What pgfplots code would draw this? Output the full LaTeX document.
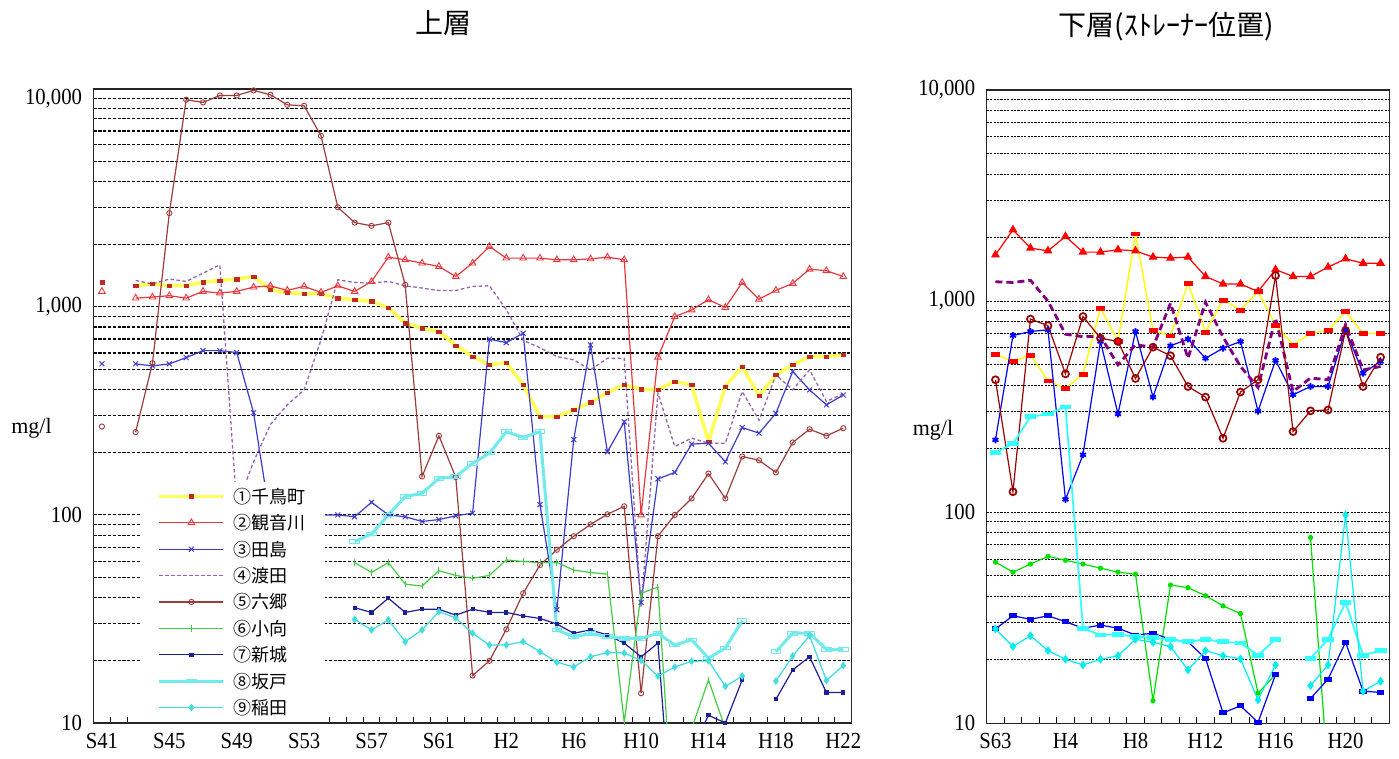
\documentclass[border=0pt]{standalone}
\usepackage{fontspec}
\usepackage{pgfplots}
\pgfplotsset{compat=1.18}
\newfontfamily\jp{Noto Sans CJK JP}
\newfontfamily\tickf[FakeStretch=0.9]{Liberation Serif}
\newfontfamily\serifn{Liberation Serif}
\definecolor{Ly}{HTML}{FFFF55}
\definecolor{Lym}{HTML}{C02828}
\definecolor{Lr}{HTML}{E8383D}
\definecolor{Lb}{HTML}{3C3CCC}
\definecolor{Lp}{HTML}{9464AE}
\definecolor{Lbr}{HTML}{9E3C3C}
\definecolor{Lg}{HTML}{44CC44}
\definecolor{Ln}{HTML}{1E1E96}
\definecolor{Lc}{HTML}{70EAEA}
\definecolor{Lc2}{HTML}{44DDDD}
\definecolor{Ry}{HTML}{FFFF00}
\definecolor{Rr}{HTML}{FF0000}
\definecolor{Rb}{HTML}{0000FF}
\definecolor{Rp}{HTML}{800080}
\definecolor{Rm}{HTML}{990000}
\definecolor{Rg}{HTML}{00E000}
\definecolor{Rn}{HTML}{0000EE}
\definecolor{Rc}{HTML}{33FFFF}
\definecolor{Rc2}{HTML}{00EEEE}
\pgfplotsset{
    scale only axis,
    unbounded coords=jump,
    axis line style={line width=1.3pt, draw=black!85},
    tick align=inside,
    major tick length=0pt, minor tick length=6pt,
    xtick pos=bottom, ytick pos=left,
    ytick style={draw=none},
    xtick style={line width=1pt, black},
    ticklabel style={font=\tickf\fontsize{23pt}{24pt}\selectfont},
    yticklabel style={xshift=-8pt},
    xticklabel style={yshift=-6.5pt},
    ylabel style={rotate=-90, anchor=center, font=\serifn\fontsize{22pt}{24pt}\selectfont},
}
\begin{document}
\begin{tikzpicture}
\useasboundingbox (0pt,0pt) rectangle (1399pt,758pt);
\node[font=\jp\fontsize{28pt}{30pt}\selectfont] at (443pt,734.7pt) {上層};
\node[font=\jp\fontsize{28pt}{30pt}\selectfont] at (1166pt,731.3pt) {下層(ｽﾄﾚｰﾅｰ位置)};
%%%%%%%%%%%%%%%% LEFT
\begin{axis}[
  ymode=log, ymin=10, ymax=11140,
  at={(93.5pt,35pt)}, anchor=south west,
  width=758.2pt, height=634pt,
  xmin=1965.5, xmax=2010.5,
  ymajorgrids, yminorgrids,
  major grid style={draw=black, line width=1.15pt, dash pattern=on 3.2pt off 1.6pt},
  minor grid style={draw=black, line width=1.15pt, dash pattern=on 3.2pt off 1.6pt},
  ytick={10,100,1000,10000},
  yticklabels={10,100,{1,000},{10,000}},
  minor ytick={20,30,40,50,60,70,80,90,200,300,400,500,600,700,800,900,2000,3000,4000,5000,6000,7000,8000,9000},
  xtick={1966,1970,...,2010},
  xticklabels={S41,S45,S49,S53,S57,S61,H2,H6,H10,H14,H18,H22},
  minor xtick={1966.5,1967.5,...,2009.5},
  ylabel={mg/l},
  ylabel style={at={(axis description cs:-0.0818,0.4653)}},
  legend cell align=left,
  legend image code/.code={\draw[mark repeat=2,mark phase=2,#1] plot coordinates {(0pt,0pt) (32pt,0pt) (64pt,0pt)};},
  legend style={at={(0.0613,0.002)}, anchor=south west, draw=none, fill=white,
    inner xsep=17.5pt, inner ysep=3pt, row sep=4.4pt, column sep=6pt,
    font=\jp\fontsize{18pt}{20pt}\selectfont,
    nodes={inner sep=2pt, text height=16pt, text depth=2pt}},
]
\addplot[color=Ly, line width=3.5pt, mark=square*, mark size=1.7pt, mark options={fill=Lym, draw=Lym, line width=0.4pt, xscale=1.3}] coordinates {(1966,1315)(1967,nan)(1968,1265)(1969,1288)(1970,1265)(1971,1265)(1972,1315)(1973,1339)(1974,1360)(1975,1399)(1976,1208)(1977,1168)(1978,1160)(1979,1155)(1980,1102)(1981,1082)(1982,1062)(1983,990)(1984,836)(1985,791)(1986,761)(1987,652)(1988,577)(1989,526)(1990,540)(1991,422)(1992,297)(1993,297)(1994,320)(1995,348)(1996,387)(1997,422)(1998,402)(1999,400)(2000,438)(2001,422)(2002,225)(2003,414)(2004,517)(2005,373)(2006,471)(2007,526)(2008,577)(2009,577)(2010,587)};
\addlegendentry{①千鳥町}
\addplot[color=Lr, line width=1.2pt, mark=triangle, mark size=3.8pt, mark options={fill=Lr!25, line width=0.9pt}] coordinates {(1966,1186)(1967,nan)(1968,1101)(1969,1114)(1970,1131)(1971,1101)(1972,1186)(1973,1165)(1974,1186)(1975,1244)(1976,1261)(1977,1200)(1978,1254)(1979,1173)(1980,1261)(1981,1186)(1982,1323)(1983,1733)(1984,1683)(1985,1622)(1986,1563)(1987,1399)(1988,1622)(1989,1950)(1990,1714)(1991,1714)(1992,1714)(1993,1683)(1994,1683)(1995,1700)(1996,1733)(1997,1683)(1998,100)(1999,573)(2000,897)(2001,966)(2002,1082)(2003,993)(2004,1309)(2005,1088)(2006,1200)(2007,1295)(2008,1517)(2009,1491)(2010,1399)};
\addlegendentry{②観音川}
\addplot[color=Lb, line width=1.2pt, mark=x, mark size=3.5pt, mark options={line width=1pt}] coordinates {(1966,532)(1967,nan)(1968,532)(1969,520)(1970,532)(1971,570)(1972,616)(1973,616)(1974,603)(1975,310)(1976,95)(1977,95)(1978,98)(1979,100)(1980,100)(1981,98)(1982,115)(1983,100)(1984,98)(1985,93)(1986,95)(1987,99)(1988,102)(1989,699)(1990,673)(1991,747)(1992,112)(1993,35)(1994,230)(1995,656)(1996,201)(1997,280)(1998,38)(1999,149)(2000,160)(2001,219)(2002,221)(2003,180)(2004,263)(2005,247)(2006,308)(2007,489)(2008,399)(2009,338)(2010,377)};
\addlegendentry{③田島}
\addplot[color=Lp, line width=1.3pt, dash pattern=on 3.5pt off 2.5pt] coordinates {(1968,1339)(1969,1288)(1970,1360)(1971,1324)(1972,1452)(1973,1592)(1974,110)(1975,180)(1976,272)(1977,338)(1978,399)(1979,693)(1980,1349)(1981,1310)(1982,1300)(1983,1324)(1984,1262)(1985,1231)(1986,1198)(1987,1198)(1988,1253)(1989,1262)(1990,970)(1991,690)(1992,636)(1993,577)(1994,556)(1995,498)(1996,566)(1997,566)(1998,36)(1999,385)(2000,213)(2001,234)(2002,221)(2003,221)(2004,392)(2005,285)(2006,471)(2007,399)(2008,498)(2009,351)(2010,382)};
\addlegendentry{④渡田}
\addplot[color=Lbr, line width=1.2pt, mark=o, mark size=2.6pt, mark options={line width=0.9pt}] coordinates {(1966,266)(1967,nan)(1968,250)(1969,536)(1970,2820)(1971,9890)(1972,9600)(1973,10370)(1974,10370)(1975,10970)(1976,10450)(1977,9350)(1978,9250)(1979,6640)(1980,3010)(1981,2540)(1982,2450)(1983,2540)(1984,1276)(1985,153)(1986,240)(1987,152)(1988,16.9)(1989,19.9)(1990,28.2)(1991,42)(1992,57.5)(1993,68)(1994,79)(1995,90)(1996,100.7)(1997,110)(1998,13.9)(1999,79)(2000,100)(2001,120)(2002,158)(2003,120)(2004,191)(2005,183)(2006,160)(2007,223)(2008,258)(2009,240)(2010,261)};
\addlegendentry{⑤六郷}
\addplot[color=Lg, line width=1.2pt, mark=|, mark size=3.2pt, mark options={line width=1pt}] coordinates {(1981,59)(1982,52.9)(1983,59)(1984,46.5)(1985,45.5)(1986,54)(1987,51.2)(1988,49.6)(1989,51.2)(1990,60.8)(1991,59.7)(1992,59)(1993,59)(1994,54.3)(1995,52.9)(1996,51.9)(1997,10.1)(1998,42)(1999,45)(2000,2.5)(2001,9.4)(2002,16.1)(2003,9.4)};
\addlegendentry{⑥小向}
\addplot[color=Ln, line width=1.2pt, mark=square*, mark size=1.5pt] coordinates {(1981,35.8)(1982,34)(1983,39.8)(1984,34)(1985,35.2)(1986,35.2)(1987,33)(1988,35.2)(1989,34)(1990,34)(1991,32.7)(1992,31.8)(1993,29.9)(1994,27)(1995,28)(1996,26.5)(1997,24.2)(1998,20.8)(1999,24.2)(2000,2)(2001,7.4)(2002,10.9)(2003,10)(2004,16.1)(2005,nan)(2006,13)(2007,18)(2008,20.8)(2009,14)(2010,14)};
\addlegendentry{⑦新城}
\addplot[color=Lc, line width=3pt, mark=square, mark size=3pt, mark options={line width=1pt, xscale=1.6, yscale=0.6}] coordinates {(1981,74.5)(1982,81)(1983,100)(1984,122.5)(1985,127)(1986,150)(1987,153)(1988,177)(1989,198)(1990,251)(1991,236)(1992,251)(1993,28)(1994,26)(1995,26.9)(1996,26)(1997,25.5)(1998,25.5)(1999,27)(2000,23.7)(2001,25.1)(2002,20.5)(2003,22.9)(2004,31)(2005,nan)(2006,22)(2007,27)(2008,27)(2009,22.6)(2010,22.6)};
\addlegendentry{⑧坂戸}
\addplot[color=Lc2, line width=1.3pt, mark=diamond*, mark size=2.8pt] coordinates {(1981,31.5)(1982,28)(1983,31.3)(1984,24.6)(1985,28)(1986,34.3)(1987,32)(1988,27)(1989,23.7)(1990,23.7)(1991,24.6)(1992,22)(1993,19.6)(1994,18.6)(1995,20.8)(1996,21.8)(1997,21.7)(1998,20)(1999,16.8)(2000,18.6)(2001,19.8)(2002,19.9)(2003,15)(2004,16.8)(2005,nan)(2006,15.9)(2007,21)(2008,26.3)(2009,16)(2010,18.9)};
\addlegendentry{⑨稲田}
\end{axis}
%%%%%%%%%%%%%%%% RIGHT
\begin{axis}[
  ymode=log, ymin=10, ymax=10000,
  at={(986.7pt,34.7pt)}, anchor=south west,
  width=402.6pt, height=633.3pt,
  xmin=1987.5, xmax=2010.5,
  ymajorgrids, yminorgrids,
  major grid style={draw=black, line width=0.95pt, dash pattern=on 2.2pt off 1.2pt},
  minor grid style={draw=black, line width=0.95pt, dash pattern=on 2.2pt off 1.2pt},
  ytick={10,100,1000,10000},
  yticklabels={10,100,{1,000},{10,000}},
  minor ytick={20,30,40,50,60,70,80,90,200,300,400,500,600,700,800,900,2000,3000,4000,5000,6000,7000,8000,9000},
  xtick={1988,1992,...,2008},
  xticklabels={S63,H4,H8,H12,H16,H20},
  minor xtick={1988.5,1989.5,...,2009.5},
  ylabel={mg/l},
  ylabel style={at={(axis description cs:-0.1334,0.463)}},
]
\addplot[color=Ry, line width=1.4pt, mark=square*, mark size=2.4pt, mark options={fill=Rr, draw=Rr, line width=0.4pt, xscale=1.7, yscale=0.8}] coordinates {(1988,562)(1989,517)(1990,556)(1991,420)(1992,386)(1993,450)(1994,929)(1995,646)(1996,2084)(1997,725)(1998,686)(1999,1216)(2000,713)(2001,1013)(2002,909)(2003,1110)(2004,770)(2005,621)(2006,702)(2007,725)(2008,893)(2009,702)(2010,702)};
\addplot[color=Rr, line width=1.2pt, mark=triangle*, mark size=4pt] coordinates {(1988,1656)(1989,2177)(1990,1783)(1991,1730)(1992,2024)(1993,1706)(1994,1706)(1995,1751)(1996,1730)(1997,1616)(1998,1600)(1999,1616)(2000,1309)(2001,1205)(2002,1205)(2003,1110)(2004,1410)(2005,1309)(2006,1309)(2007,1449)(2008,1586)(2009,1512)(2010,1512)};
\addplot[color=Rb, line width=1.2pt, mark=asterisk, mark size=3.4pt, mark options={line width=1.8pt}] coordinates {(1988,220)(1989,687)(1990,718)(1991,731)(1992,115)(1993,187)(1994,644)(1995,292)(1996,718)(1997,351)(1998,614)(1999,661)(2000,536)(2001,598)(2002,644)(2003,301)(2004,524)(2005,360)(2006,394)(2007,394)(2008,731)(2009,455)(2010,518)};
\addplot[color=Rp, line width=2.8pt, dash pattern=on 7pt off 4pt] coordinates {(1988,1235)(1989,1225)(1990,1255)(1991,1000)(1992,697)(1993,678)(1994,681)(1995,499)(1996,621)(1997,605)(1998,977)(1999,536)(2000,988)(2001,676)(2002,490)(2003,390)(2004,830)(2005,373)(2006,432)(2007,424)(2008,773)(2009,472)(2010,490)};
\addplot[color=Rm, line width=1.2pt, mark=o, mark size=3.5pt, mark options={line width=1.7pt}] coordinates {(1988,424)(1989,125)(1990,822)(1991,765)(1992,452)(1993,845)(1994,667)(1995,644)(1996,430)(1997,605)(1998,551)(1999,394)(2000,351)(2001,224)(2002,371)(2003,424)(2004,1320)(2005,241)(2006,302)(2007,305)(2008,726)(2009,394)(2010,542)};
\addplot[color=Rg, line width=1.2pt, mark=*, mark size=2pt] coordinates {(1988,58)(1989,52)(1990,56.8)(1991,61.8)(1992,59.2)(1993,56.8)(1994,54.3)(1995,52)(1996,50.8)(1997,12.8)(1998,45.2)(1999,43.9)(2000,40.2)(2001,36)(2002,33.1)(2003,13.9)(2004,17)(2005,nan)(2006,75.9)(2007,5.6)};
\addplot[color=Rn, line width=1.2pt, mark=square*, mark size=2.3pt, mark options={xscale=1.3,yscale=0.8}] coordinates {(1988,28)(1989,32.3)(1990,31.1)(1991,32.3)(1992,30.3)(1993,28.2)(1994,29.2)(1995,28.2)(1996,26.2)(1997,26.7)(1998,25)(1999,24.3)(2000,20.3)(2001,11.2)(2002,12.1)(2003,10.1)(2004,17)(2005,nan)(2006,13.1)(2007,16.2)(2008,24.2)(2009,14.2)(2010,14)};
\addplot[color=Rc, line width=1.8pt, mark=square*, mark size=2.8pt, mark options={xscale=1.8, yscale=0.55}] coordinates {(1988,192)(1989,211)(1990,283)(1991,292)(1992,315)(1993,28.2)(1994,26.2)(1995,26.4)(1996,25.7)(1997,25.5)(1998,24.9)(1999,24.3)(2000,25)(2001,24.3)(2002,24)(2003,21)(2004,25)(2005,nan)(2006,20.3)(2007,25)(2008,37.4)(2009,21)(2010,22.1)};
\addplot[color=Rc2, line width=1.2pt, mark=diamond*, mark size=3.4pt] coordinates {(1988,28)(1989,23.1)(1990,26)(1991,22.1)(1992,20.1)(1993,18.9)(1994,20.1)(1995,20.9)(1996,25)(1997,24.2)(1998,23.1)(1999,17.9)(2000,22.1)(2001,20.9)(2002,20.2)(2003,12.9)(2004,18.9)(2005,nan)(2006,15.1)(2007,18.9)(2008,97)(2009,14.2)(2010,15.8)};
\end{axis}
\end{tikzpicture}
\end{document}
